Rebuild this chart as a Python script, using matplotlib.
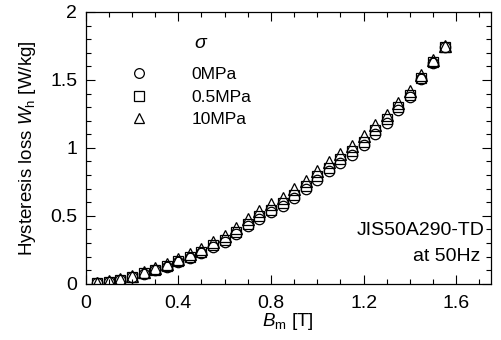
import matplotlib
matplotlib.use('Agg')
import matplotlib.pyplot as plt
from matplotlib.ticker import MultipleLocator

plt.rcParams['font.family'] = ['Liberation Sans', 'DejaVu Sans']
plt.rcParams['mathtext.fontset'] = 'custom'
plt.rcParams['mathtext.it'] = 'Liberation Sans:italic'
plt.rcParams['mathtext.rm'] = 'Liberation Sans'

# flux density Bm [T]
b_m = [0.05, 0.10, 0.15, 0.20, 0.25, 0.30, 0.35, 0.40, 0.45, 0.50, 0.55,
       0.60, 0.65, 0.70, 0.75, 0.80, 0.85, 0.90, 0.95, 1.00, 1.05, 1.10,
       1.15, 1.20, 1.25, 1.30, 1.35, 1.40, 1.45, 1.50, 1.55]

# hysteresis loss Wh [W/kg] per stress
w_0mpa = [0.005, 0.016, 0.029, 0.049, 0.076, 0.100, 0.126, 0.163, 0.192, 0.227,
          0.272, 0.310, 0.365, 0.425, 0.480, 0.525, 0.575, 0.630, 0.700, 0.765,
          0.830, 0.890, 0.950, 1.020, 1.105, 1.185, 1.280, 1.375, 1.505, 1.625, 1.740]
w_05mpa = [0.005, 0.017, 0.030, 0.050, 0.078, 0.103, 0.130, 0.170, 0.200, 0.237,
           0.285, 0.323, 0.380, 0.440, 0.500, 0.545, 0.595, 0.655, 0.720, 0.790,
           0.855, 0.915, 0.975, 1.045, 1.130, 1.210, 1.300, 1.390, 1.515, 1.630, 1.745]
w_10mpa = [0.008, 0.020, 0.035, 0.058, 0.088, 0.115, 0.145, 0.185, 0.220, 0.260,
           0.310, 0.350, 0.410, 0.475, 0.535, 0.585, 0.635, 0.695, 0.760, 0.830,
           0.895, 0.955, 1.015, 1.085, 1.165, 1.240, 1.330, 1.420, 1.535, 1.645, 1.750]

labels = ['0MPa', '0.5MPa', '10MPa']
markers = ['o', 's', '^']
msizes = [7.5, 7.5, 8]

fig = plt.figure(figsize=(5.01, 3.40), dpi=100)
ax = fig.add_axes([0.171, 0.165, 0.809, 0.800])

for ys, mk, ms in zip([w_0mpa, w_05mpa, w_10mpa], markers, msizes):
    ax.plot(b_m, ys, linestyle='none', marker=mk, markersize=ms,
            markerfacecolor='none', markeredgecolor='black', markeredgewidth=0.9)

# legend drawn by hand in axes coordinates
leg_y = [0.777, 0.689, 0.609]
for lab, mk, yy in zip(labels, markers, leg_y):
    ax.plot([0.1325], [yy], transform=ax.transAxes, linestyle='none', marker=mk,
            markersize=7, markerfacecolor='none', markeredgecolor='black',
            markeredgewidth=0.9, clip_on=False)
    ax.text(0.262, yy, lab, transform=ax.transAxes, ha='left',
            va='center_baseline', fontsize=12.5)
ax.text(0.286, 0.885, '$\\sigma$', transform=ax.transAxes, ha='center',
        va='center', fontsize=14)

ax.set_xlim(0, 1.75)
ax.set_ylim(0, 2)
ax.xaxis.set_minor_locator(MultipleLocator(0.1))
ax.yaxis.set_minor_locator(MultipleLocator(0.1))
ax.set_xticks([0, 0.4, 0.8, 1.2, 1.6])
ax.set_xticklabels(['0', '0.4', '0.8', '1.2', '1.6'])
ax.set_yticks([0, 0.5, 1, 1.5, 2])
ax.set_yticklabels(['0', '0.5', '1', '1.5', '2'])
ax.tick_params(which='both', direction='in', top=True, right=True, labelsize=14)
ax.tick_params(which='major', length=6.5, width=0.8)
ax.tick_params(which='minor', length=3.5, width=0.8)
ax.tick_params(axis='x', pad=8)
ax.tick_params(axis='y', pad=6)
for sp in ax.spines.values():
    sp.set_linewidth(0.9)

ax.set_xlabel('$B_{\\rm m}$ [T]', fontsize=13.5, labelpad=-1)
ax.set_ylabel('Hysteresis loss $W_{\\rm h}$ [W/kg]', fontsize=13.5, labelpad=9)

ax.text(0.985, 0.197, 'JIS50A290-TD', transform=ax.transAxes,
        ha='right', va='center', fontsize=14)
ax.text(0.975, 0.099, 'at 50Hz', transform=ax.transAxes,
        ha='right', va='center', fontsize=14)

fig.savefig('out.png', dpi=100)
